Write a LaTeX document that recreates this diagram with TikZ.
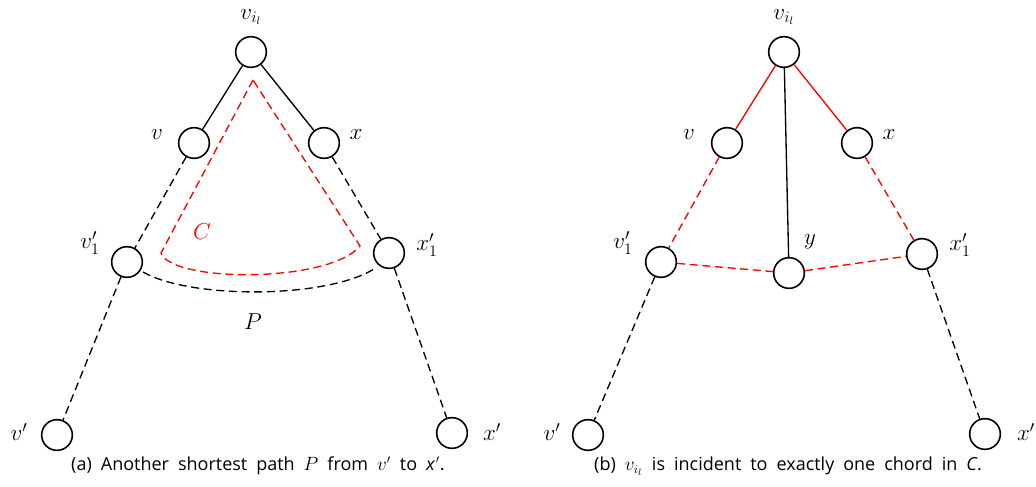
\documentclass[tikz,border=0pt]{standalone}
\usepackage{fontspec}
\newfontfamily\capfont{Open Sans}
\newcommand\capsetup{\capfont\fontsize{13.5}{16}\selectfont\spaceskip=0.5em\relax}
\begin{document}
\begin{tikzpicture}[x=0.75pt,y=-0.75pt,
  vtx/.style={circle,draw,line width=1.2pt,minimum size=23pt,inner sep=0pt},
  lbl/.style={inner sep=0pt,font=\fontsize{17}{20}\selectfont},
  captext/.style={inner sep=0pt},
  edge/.style={line width=1pt},
  dsh/.style={line width=1pt,dash pattern=on 6pt off 3.5pt}]
\useasboundingbox (0,0) rectangle (1036,486);
% ---------- panel (a)
\node[vtx] (a0) at (251,52) {};
\node[vtx] (av) at (194,143) {};
\node[vtx] (ax) at (324,143) {};
\node[vtx] (av1) at (127,262) {};
\node[vtx] (ax1) at (389,253) {};
\node[vtx] (avp) at (57,435) {};
\node[vtx] (axp) at (452,433) {};
\node[lbl] (la0) at (251,17) {$v_{i_l}$};
\node[lbl] (lav) at (157,135) {$v$};
\node[lbl] (lax) at (356,135) {$x$};
\node[lbl] (lav1) at (90,243) {$v'_1$};
\node[lbl] (lax1) at (427,245) {$x'_1$};
\node[lbl] (lavp) at (19,432) {$v'$};
\node[lbl] (laxp) at (492,432) {$x'$};
\node[lbl,red] (lC) at (202,232) {$C$};
\node[lbl] (lP) at (253,322) {$P$};
\draw[edge] (a0) -- (av);
\draw[edge] (a0) -- (ax);
\draw[dsh] (av) -- (av1);
\draw[dsh] (ax) -- (ax1);
\draw[dsh] (av1) -- (avp);
\draw[dsh] (ax1) -- (axp);
\coordinate (pa) at (143,272);
\coordinate (pb) at (374,269);
\draw[dsh] (pa) .. controls (190,299) and (325,299) .. (pb);
\coordinate (c1) at (253,80);
\coordinate (c2) at (161,253);
\coordinate (c3) at (360,246);
\draw[dsh,red] (c1) -- (c2) .. controls (172,283) and (330,283) .. (c3) -- cycle;
\node[captext] (capa) at (258,466) {\capsetup (a) Another shortest path $P$ from $v'$ to \textit{x}\kern0.5pt$'$.};
% ---------- panel (b)
\node[vtx] (b0) at (784,52) {};
\node[vtx] (bv) at (727,143) {};
\node[vtx] (bx) at (857,143) {};
\node[vtx] (bv1) at (661,262) {};
\node[vtx] (by) at (789,273) {};
\node[vtx] (bx1) at (922,254) {};
\node[vtx] (bvp) at (588,435) {};
\node[vtx] (bxp) at (985,434) {};
\node[lbl] (lb0) at (784,17) {$v_{i_l}$};
\node[lbl] (lbv) at (689,135) {$v$};
\node[lbl] (lbx) at (889,135) {$x$};
\node[lbl] (lbv1) at (623,243) {$v'_1$};
\node[lbl] (lbx1) at (960,245) {$x'_1$};
\node[lbl] (lby) at (810,242) {$y$};
\node[lbl] (lbvp) at (552,432) {$v'$};
\node[lbl] (lbxp) at (1026,432) {$x'$};
\draw[edge,red] (b0) -- (bv);
\draw[edge,red] (b0) -- (bx);
\draw[edge] (b0) -- (by);
\draw[dsh,red] (bv) -- (bv1);
\draw[dsh,red] (bx) -- (bx1);
\draw[dsh,red] (bv1) -- (by);
\draw[dsh,red] (by) -- (bx1);
\draw[dsh] (bv1) -- (bvp);
\draw[dsh] (bx1) -- (bxp);
\node[captext] (capb) at (788,466) {\capsetup (b) $v_{i_l}$ is incident to exactly one chord in \textit{C}.};
\end{tikzpicture}
\end{document}
